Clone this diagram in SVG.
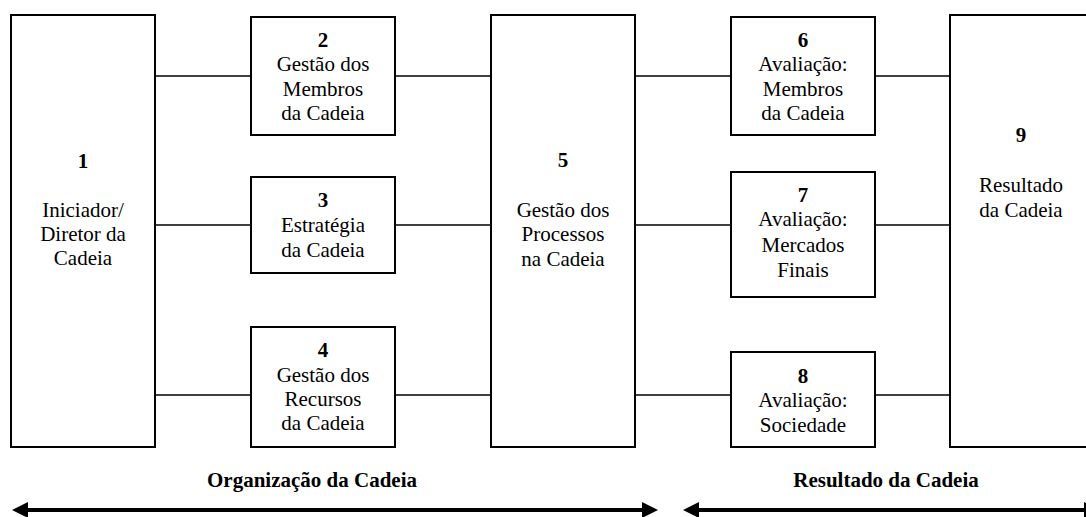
<svg xmlns="http://www.w3.org/2000/svg" width="1086" height="517" viewBox="0 0 1086 517">
<style>
.box{fill:#fff;stroke:#000;stroke-width:2}
.ln{stroke:#000;stroke-width:1.6;fill:none}
.t{font-size:21px;text-anchor:middle;fill:#000}
.b{font-weight:bold}
.arr{stroke:#000;stroke-width:4;fill:none}
</style>
<defs>
<marker id="ah" viewBox="0 0 16 16" refX="2" refY="8" markerWidth="16" markerHeight="16" markerUnits="userSpaceOnUse" orient="auto-start-reverse">
<path d="M0,0 L16,8 L0,16 z" fill="#000"/>
</marker>
</defs>
<rect width="1086" height="517" fill="#fff"/>
<g id="connectors">
<line class="ln" x1="155" y1="76" x2="251" y2="76"/>
<line class="ln" x1="155" y1="225" x2="251" y2="225"/>
<line class="ln" x1="155" y1="395" x2="251" y2="395"/>
<line class="ln" x1="395" y1="76" x2="491" y2="76"/>
<line class="ln" x1="395" y1="225" x2="491" y2="225"/>
<line class="ln" x1="395" y1="395" x2="491" y2="395"/>
<line class="ln" x1="635" y1="76" x2="731" y2="76"/>
<line class="ln" x1="635" y1="225" x2="731" y2="225"/>
<line class="ln" x1="635" y1="395" x2="731" y2="395"/>
<line class="ln" x1="875" y1="76" x2="950" y2="76"/>
<line class="ln" x1="875" y1="225" x2="950" y2="225"/>
<line class="ln" x1="875" y1="395" x2="950" y2="395"/>
<line class="arr" x1="26" y1="510" x2="644" y2="510" marker-start="url(#ah)" marker-end="url(#ah)"/>
<line class="arr" x1="697" y1="510" x2="1086" y2="510" marker-start="url(#ah)" marker-end="url(#ah)"/>
</g>
<g font-family="Liberation Serif, DejaVu Serif, serif">
<g id="n1">
<rect class="box" x="11" y="15" width="144" height="432"/>
<text class="t b" x="83" y="168">1</text>
<text class="t" x="83" y="217">Iniciador/</text>
<text class="t" x="83" y="241">Diretor da</text>
<text class="t" x="83" y="265">Cadeia</text>
</g>
<g id="n2">
<rect class="box" x="251" y="17" width="144" height="118"/>
<text class="t b" x="323" y="47">2</text>
<text class="t" x="323" y="71">Gestão dos</text>
<text class="t" x="323" y="95.5">Membros</text>
<text class="t" x="323" y="120">da Cadeia</text>
</g>
<g id="n3">
<rect class="box" x="251" y="177" width="144" height="96"/>
<text class="t b" x="323" y="207">3</text>
<text class="t" x="323" y="232">Estratégia</text>
<text class="t" x="323" y="257">da Cadeia</text>
</g>
<g id="n4">
<rect class="box" x="251" y="327" width="144" height="120"/>
<text class="t b" x="323" y="357">4</text>
<text class="t" x="323" y="382">Gestão dos</text>
<text class="t" x="323" y="406">Recursos</text>
<text class="t" x="323" y="430">da Cadeia</text>
</g>
<g id="n5">
<rect class="box" x="491" y="15" width="144" height="432"/>
<text class="t b" x="563" y="167">5</text>
<text class="t" x="563" y="217">Gestão dos</text>
<text class="t" x="563" y="241">Processos</text>
<text class="t" x="563" y="266">na Cadeia</text>
</g>
<g id="n6">
<rect class="box" x="731" y="17" width="144" height="118"/>
<text class="t b" x="803" y="47">6</text>
<text class="t" x="803" y="71">Avaliação:</text>
<text class="t" x="803" y="95.5">Membros</text>
<text class="t" x="803" y="120">da Cadeia</text>
</g>
<g id="n7">
<rect class="box" x="731" y="172" width="144" height="125"/>
<text class="t b" x="803" y="202">7</text>
<text class="t" x="803" y="226">Avaliação:</text>
<text class="t" x="803" y="252">Mercados</text>
<text class="t" x="803" y="277">Finais</text>
</g>
<g id="n8">
<rect class="box" x="731" y="352" width="144" height="95"/>
<text class="t b" x="803" y="383">8</text>
<text class="t" x="803" y="407">Avaliação:</text>
<text class="t" x="803" y="432">Sociedade</text>
</g>
<g id="n9">
<rect class="box" x="950" y="15" width="144" height="432"/>
<text class="t b" x="1021" y="142">9</text>
<text class="t" x="1021" y="192">Resultado</text>
<text class="t" x="1021" y="217">da Cadeia</text>
</g>
<g id="labels">
<text class="t b" x="312" y="487">Organização da Cadeia</text>
<text class="t b" x="886" y="487">Resultado da Cadeia</text>
</g>
</g>
</svg>
